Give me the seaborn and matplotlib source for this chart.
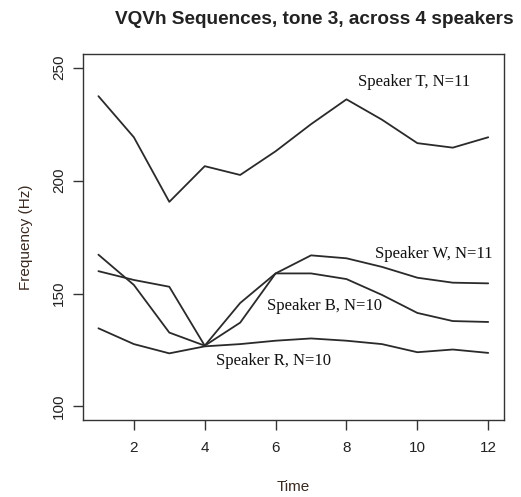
import pandas as pd
import matplotlib
matplotlib.use("Agg")
import matplotlib.pyplot as plt
import seaborn as sns

# =============================
# DATA
# =============================
time = list(range(1, 13))
speaker_t = [237.4, 219.2, 190.6, 206.4, 202.5, 213.0, 225.0, 236.0, 227.0, 216.6, 214.6, 219.2]
speaker_w = [167.2, 153.8, 132.7, 126.9, 145.8, 158.9, 166.9, 165.6, 161.8, 157.0, 154.8, 154.5]
speaker_b = [159.9, 156.0, 153.0, 126.9, 137.1, 158.9, 158.9, 156.4, 149.4, 141.4, 137.8, 137.4]
speaker_r = [134.6, 127.6, 123.5, 126.6, 127.6, 129.1, 130.1, 129.1, 127.6, 124.0, 125.2, 123.7]

labels = ["Speaker T, N=11", "Speaker W, N=11", "Speaker B, N=10", "Speaker R, N=10"]
label_x = [9.9, 10.47, 7.38, 5.94]
label_y = [243.5, 167.6, 144.3, 120.0]

y_ticks = [100, 150, 200, 250]
x_ticks = [2, 4, 6, 8, 10, 12]

# =============================
# Build long-form frame
# =============================
series = {"T": speaker_t, "W": speaker_w, "B": speaker_b, "R": speaker_r}
df = pd.concat(
    [pd.DataFrame({"Time": time, "Frequency": vals, "speaker": name})
     for name, vals in series.items()],
    ignore_index=True,
)

# =============================
# Plot
# =============================
sns.set_style("ticks")
plt.rcParams["font.family"] = ["Liberation Sans", "DejaVu Sans"]

fig = plt.figure(figsize=(5.21, 4.97), dpi=100)
ax = fig.add_axes([0.159, 0.155, 0.808, 0.736])

sns.lineplot(
    data=df, x="Time", y="Frequency", hue="speaker",
    palette=["#2a2a2a"] * 4, linewidth=1.3, legend=False, ax=ax,
)

for txt, tx, ty in zip(labels, label_x, label_y):
    ax.text(tx, ty, txt, ha="center", va="center", fontsize=12,
            family="Liberation Serif", color="#111111")

ax.set_xlim(0.56, 12.44)
ax.set_ylim(94, 256)
ax.set_xticks(x_ticks)
ax.set_yticks(y_ticks)
ax.set_yticklabels([str(v) for v in y_ticks], rotation=90, va="center")
ax.tick_params(axis="both", length=7, width=1, color="#333333",
               labelsize=11, labelcolor="#222222")
ax.tick_params(axis="x", pad=8)
ax.tick_params(axis="y", pad=5)

for side in ["top", "right", "left", "bottom"]:
    ax.spines[side].set_visible(True)
    ax.spines[side].set_color("#333333")
    ax.spines[side].set_linewidth(1)

ax.set_xlabel("Time", fontsize=11, color="#3a2a20", labelpad=18)
ax.set_ylabel("Frequency (Hz)", fontsize=11, color="#3a2a20", labelpad=14)
ax.set_title("VQVh Sequences, tone 3, across 4 speakers",
             fontsize=13.7, fontweight="bold", color="#222222", pad=22, x=0.55)

fig.savefig("out.png", dpi=100)
